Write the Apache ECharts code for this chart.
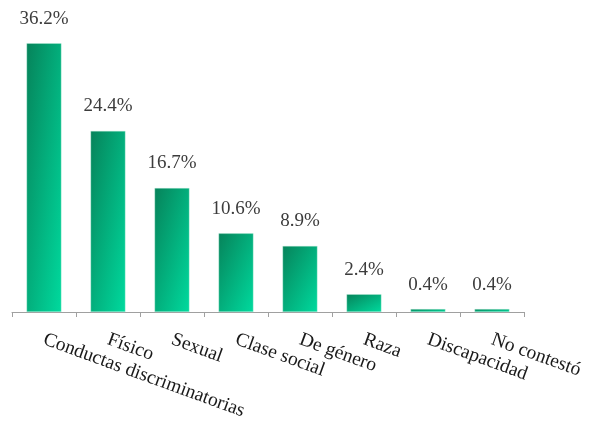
<!DOCTYPE html>
<html>
<head>
<meta charset="utf-8">
<script src="https://cdn.jsdelivr.net/npm/echarts@6/dist/echarts.min.js"></script>
<style>
  html, body { margin: 0; padding: 0; background: #fff; }
  #chart { width: 592px; height: 430px; }
</style>
</head>
<body>
<div id="chart"></div>
<script>
// Tipos de discriminación reportados (porcentaje)
const categories = [
  'Conductas discriminatorias', 'Físico', 'Sexual', 'Clase social',
  'De género', 'Raza', 'Discapacidad', 'No contestó'
];
const values = [36.2, 24.4, 16.7, 10.6, 8.9, 2.4, 0.4, 0.4];

const serif = '"Liberation Serif", "DejaVu Serif", serif';
const BAR_W = 35;

// Diagonal fill whose colour bands run corner to corner of each bar,
// whatever the bar's height (w, h in pixels).
function diagonalFill(w, h) {
  const L2 = w * w + h * h;
  return new echarts.graphic.LinearGradient(0, 0, 2 * h * h / L2, 2 * w * w / L2, [
    { offset: 0, color: '#06835a' },
    { offset: 1, color: '#00da9e' }
  ]);
}

const chart = echarts.init(document.getElementById('chart'), null, { renderer: 'canvas' });
const option = {
  animation: false,
  grid: { left: 12, right: 68, top: 15, bottom: 118, containLabel: false },
  xAxis: {
    type: 'category',
    data: categories,
    boundaryGap: true,
    axisLine: { lineStyle: { color: '#a0a0a0', width: 1 } },
    axisTick: { show: true, length: 5, lineStyle: { color: '#a0a0a0' } },
    axisLabel: {
      rotate: -20,
      interval: 0,
      margin: 27,
      color: '#1a1a1a',
      fontFamily: serif,
      fontSize: 19.5
    }
  },
  yAxis: {
    type: 'value',
    min: 0,
    max: 40,
    show: false,
    splitLine: { show: false }
  },
  series: [{
    type: 'bar',
    data: values,
    barWidth: BAR_W,
    itemStyle: {
      color: '#03ae7c',
      borderColor: 'rgba(190,240,220,0.6)',
      borderWidth: 0.6
    },
    label: {
      show: true,
      position: 'top',
      distance: 15,
      formatter: p => p.value.toFixed(1) + '%',
      color: '#3c3c3c',
      fontFamily: serif,
      fontSize: 19
    }
  }]
};
chart.setOption(option);

// Once the scale is laid out, give each bar its own gradient sized to it.
const styled = values.map((v, i) => {
  const base = chart.convertToPixel({ gridIndex: 0 }, [i, 0])[1];
  const top = chart.convertToPixel({ gridIndex: 0 }, [i, v])[1];
  const h = Math.max(1, base - top);
  return { value: v, itemStyle: { color: diagonalFill(BAR_W, h) } };
});
chart.setOption({ series: [{ data: styled }] });
</script>
</body>
</html>
